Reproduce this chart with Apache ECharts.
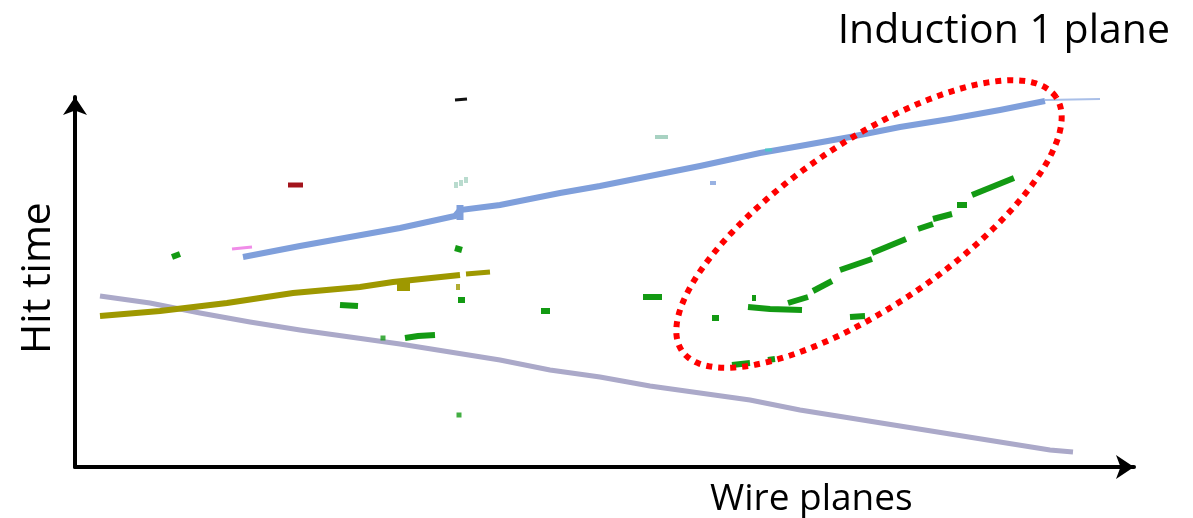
<!DOCTYPE html>
<html>
<head>
<meta charset="utf-8">
<script src="https://cdn.jsdelivr.net/npm/echarts@6/dist/echarts.min.js"></script>
<style>
html,body{margin:0;padding:0;background:#fff;}
#chart{width:1193px;height:518px;}
</style>
</head>
<body>
<div id="chart"></div>
<script>
// ---- Data (wire number, hit time) in arbitrary units ----
var titleText = "Induction 1 plane";
var xName = "Wire planes";
var yName = "Hit time";

var blueTrack = [[168,210],[225,221],[275,230],[325,239],[380,251],[385,257],[425,262],[485,274],[525,281],[575,291],[625,301],[685,314],[725,321],[775,330],[825,340],[875,348],[925,357],[970,366]];
var blueTail = [[970,367],[1025,368]];
var blueBlob = [[385,247],[385,262]];
var yellowTrack = [[25,151],[85,156],[152,164],[218,174],[285,180],[318,185],[385,192]];
var yellowTail = [[391,193],[415,195]];
var yellowBlob = [[322,180],[335,180]];
var lavenderTrack = [[25,171],[75,164],[125,154],[175,145],[225,137],[275,130],[325,123],[375,115],[425,107],[475,97],[525,90],[575,81],[625,74],[675,67],[725,57],[775,49],[825,41],[875,33],[925,25],[975,17],[998,15]];

var greenSegments = [
  [[97,210],[105,213]],
  [[265,162],[283,161]],
  [[330,129],[343,131],[360,132]],
  [[380,219],[387,217]],
  [[383,167],[390,167]],
  [[466,156],[475,156]],
  [[568,170],[587,170]],
  [[637,149],[644,149]],
  [[677,169],[681,169]],
  [[673,160],[695,158],[727,157]],
  [[713,164],[733,170]],
  [[738,176],[757,186]],
  [[765,197],[797,208]],
  [[797,214],[831,228]],
  [[843,238],[858,243]],
  [[858,248],[877,253]],
  [[882,262],[892,262]],
  [[897,272],[939,289]],
  [[775,150],[790,151]],
  [[657,102],[675,104]],
  [[693,107],[700,108]]
];
var greenDots = [[308,129],[384,52]];
var yellowDots = [[383,180]];
var pinkSegment = [[157,218],[177,220]];
var redSegment = [[213,282],[228,282]];
var tealDots = [[381,282],[386,284],[391,287]];
var tealSegment = [[580,330],[593,330]];
var cyanSegment = [[690,317],[697,317]];
var blackSegment = [[380,367],[392,368]];
var blueDots = [[638,284]];

// highlight ellipse (center in data units, semi-axes, rotation in degrees)
var ellipseCenter = [794,243];
var ellipseAxes = [226,82];
var ellipseAngle = 34.1;

var X_MAX = 1059, Y_MAX = 370;

function ellipsePoints() {
  var pts = [], th = ellipseAngle*Math.PI/180;
  for (var i = 0; i <= 180; i++) {
    var t = i/180*2*Math.PI;
    var ax = ellipseAxes[0]*Math.cos(t), by = ellipseAxes[1]*Math.sin(t);
    pts.push([ellipseCenter[0] + ax*Math.cos(th) - by*Math.sin(th),
              ellipseCenter[1] + ax*Math.sin(th) + by*Math.cos(th)]);
  }
  return pts;
}

function seg(data, color, w) {
  return {type:'line', data:data, symbol:'none', silent:true, animation:false, clip:false,
    lineStyle:{color:color, width:w, cap:'butt', join:'miter'}, z:3};
}
function dots(data, color, size) {
  return {type:'scatter', data:data, symbol:'rect', symbolSize:size, silent:true, animation:false,
    itemStyle:{color:color}, z:3};
}

var series = [];
series.push(seg(lavenderTrack, '#aba9c9', 5));
series.push(seg(yellowTrack, '#9e9800', 6));
series.push(seg(yellowTail, '#9e9800', 5));
series.push(seg(yellowBlob, '#9e9800', 8));
series.push(dots(yellowDots, '#9e9800', [4,6]));
series.push(seg(blueTrack, '#7f9fdb', 6));
series.push(seg(blueTail, '#a9bfe8', 2));
series.push(seg(blueBlob, '#7f9fdb', 7));
greenSegments.forEach(function(s){ series.push(seg(s, '#139a13', 6)); });
series.push(dots(greenDots, '#139a13', [5,5]));
series.push(seg(pinkSegment, '#f08ce8', 3));
series.push(seg(redSegment, '#a3141c', 5));
series.push(dots(tealDots, '#a8d2c2', [4,6]));
series.push(seg(tealSegment, '#a8d2c2', 4));
series.push(seg(cyanSegment, '#4cc8c8', 3));
series.push(seg(blackSegment, '#111111', 3));
series.push(dots(blueDots, '#7f9fdb', [6,4]));
series.push({type:'line', data:ellipsePoints(), symbol:'none', silent:true, animation:false, z:5, clip:false,
  lineStyle:{color:'#ff0000', width:6, type:[6,6], cap:'butt'}});

var chart = echarts.init(document.getElementById('chart'), null, {renderer:'canvas'});
chart.setOption({
  animation:false,
  backgroundColor:'#ffffff',
  grid:{left:75, top:97, right:59, bottom:51, containLabel:false},
  xAxis:{type:'value', min:0, max:X_MAX, splitLine:{show:false}, axisTick:{show:false}, axisLabel:{show:false},
    axisLine:{show:true, onZero:false, symbol:['none','arrow'], symbolSize:[18,18], lineStyle:{color:'#000', width:4}}},
  yAxis:{type:'value', min:0, max:Y_MAX, splitLine:{show:false}, axisTick:{show:false}, axisLabel:{show:false},
    axisLine:{show:true, onZero:false, symbol:['none','arrow'], symbolSize:[18,18], lineStyle:{color:'#000', width:4}}},
  graphic:[
    {type:'text', x:1170, y:31, style:{text:titleText, font:'41px "Open Sans"', fill:'#000', align:'right', verticalAlign:'middle'}},
    {type:'text', x:710, y:499, style:{text:xName, font:'37px "Open Sans"', fill:'#000', align:'left', verticalAlign:'middle'}},
    {type:'text', x:38, y:278, rotation:Math.PI/2, style:{text:yName, font:'41px "Open Sans"', fill:'#000', align:'center', verticalAlign:'middle'}}
  ],
  series:series
});
</script>
</body>
</html>
